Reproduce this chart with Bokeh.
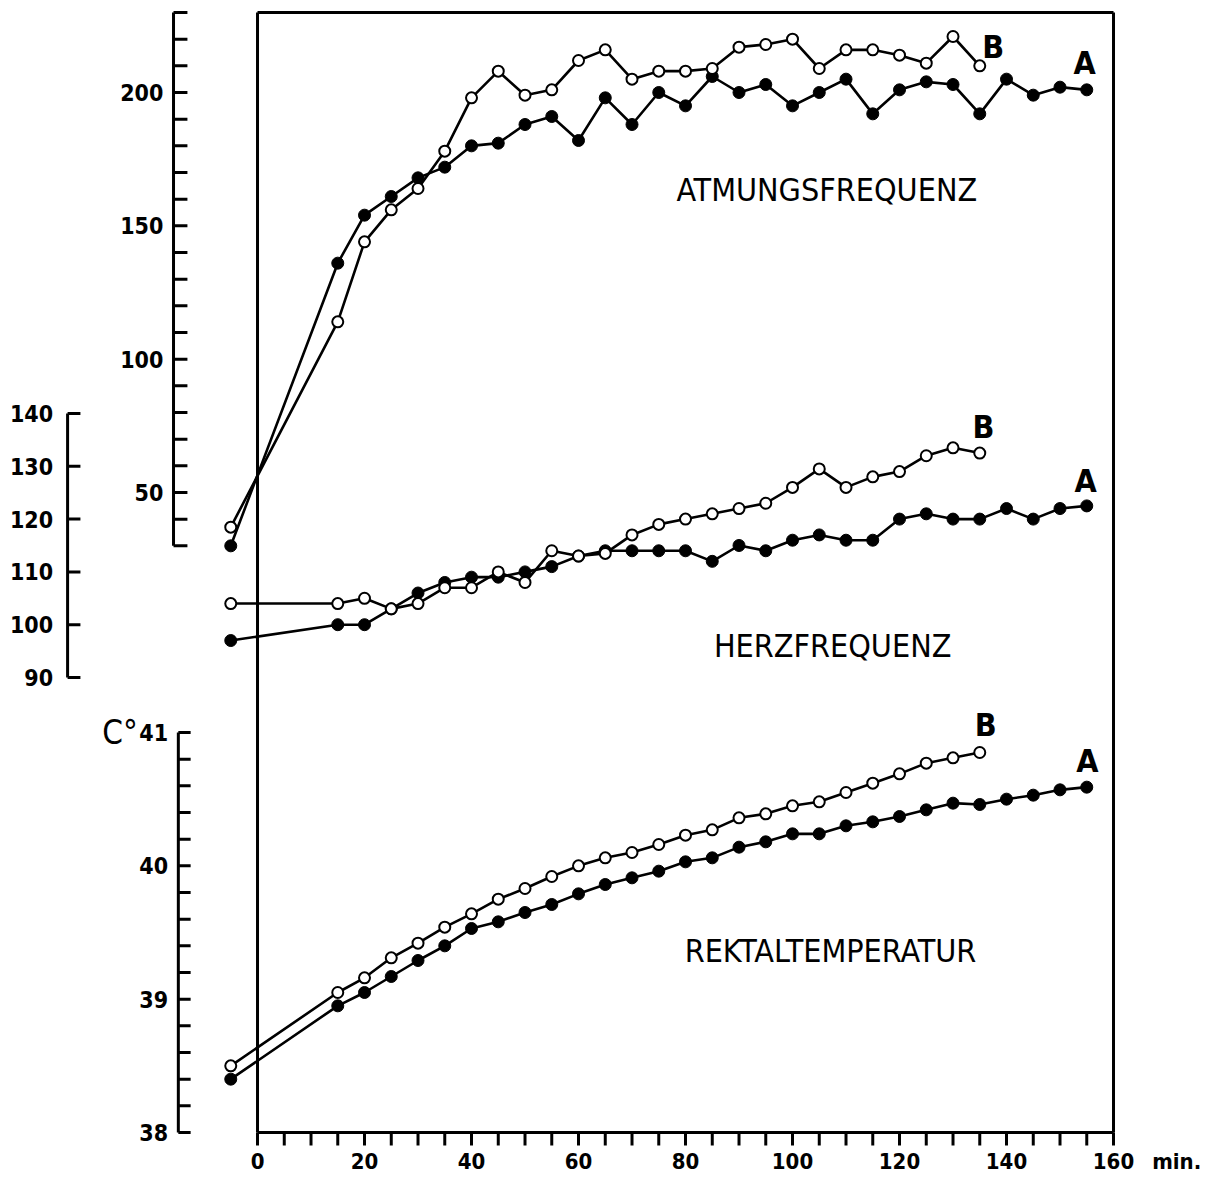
from bokeh.plotting import figure
from bokeh.models import Range1d
from bokeh.core.properties import value
from bokeh.embed import file_html
from bokeh.resources import INLINE

# ---------------- data ----------------
time_a = [-5, 15, 20, 25, 30, 35, 40, 45, 50, 55, 60, 65, 70, 75, 80, 85,
          90, 95, 100, 105, 110, 115, 120, 125, 130, 135, 140, 145, 150, 155]
time_b = [-5, 15, 20, 25, 30, 35, 40, 45, 50, 55, 60, 65, 70, 75, 80, 85,
          90, 95, 100, 105, 110, 115, 120, 125, 130, 135]

atm_a = [30, 136, 154, 161, 168, 172, 180, 181, 188, 191, 182, 198, 188, 200, 195, 206,
         200, 203, 195, 200, 205, 192, 201, 204, 203, 192, 205, 199, 202, 201]
atm_b = [37, 114, 144, 156, 164, 178, 198, 208, 199, 201, 212, 216, 205, 208, 208, 209,
         217, 218, 220, 209, 216, 216, 214, 211, 221, 210]

herz_a = [97, 100, 100, 103, 106, 108, 109, 109, 110, 111, 113, 114, 114, 114, 114, 112,
          115, 114, 116, 117, 116, 116, 120, 121, 120, 120, 122, 120, 122, 122.5]
herz_b = [104, 104, 105, 103, 104, 107, 107, 110, 108, 114, 113, 113.5, 117, 119, 120, 121,
          122, 123, 126, 129.5, 126, 128, 129, 132, 133.5, 132.5]

temp_a = [38.40, 38.95, 39.05, 39.17, 39.29, 39.40, 39.53, 39.58, 39.65, 39.71, 39.79, 39.86,
          39.91, 39.96, 40.03, 40.06, 40.14, 40.18, 40.24, 40.24, 40.30, 40.33, 40.37, 40.42,
          40.47, 40.46, 40.50, 40.53, 40.57, 40.59]
temp_b = [38.50, 39.05, 39.16, 39.31, 39.42, 39.54, 39.64, 39.75, 39.83, 39.92, 40.00, 40.06,
          40.10, 40.16, 40.23, 40.27, 40.36, 40.39, 40.45, 40.48, 40.55, 40.62, 40.69, 40.77,
          40.81, 40.85]

x_ticks = [0, 5, 10, 15, 20, 25, 30, 35, 40, 45, 50, 55, 60, 65, 70, 75, 80,
           85, 90, 95, 100, 105, 110, 115, 120, 125, 130, 135, 140, 145, 150, 155, 160]
x_tick_labels = [0, 20, 40, 60, 80, 100, 120, 140, 160]
x_unit = "min."

atm_ticks = [30, 40, 50, 60, 70, 80, 90, 100, 110, 120, 130, 140, 150, 160, 170, 180,
             190, 200, 210, 220, 230]
atm_tick_labels = [50, 100, 150, 200]
herz_ticks = [90, 100, 110, 120, 130, 140]
herz_tick_labels = [90, 100, 110, 120, 130, 140]
temp_ticks = [38.0, 38.2, 38.4, 38.6, 38.8, 39.0, 39.2, 39.4, 39.6, 39.8, 40.0,
              40.2, 40.4, 40.6, 40.8, 41.0]
temp_tick_labels = [38, 39, 40, 41]
temp_unit = "C°"

panel_titles = ["ATMUNGSFREQUENZ", "HERZFREQUENZ", "REKTALTEMPERATUR"]

# ---------------- styling / layout constants ----------------
FONT = "DejaVu Sans Condensed"
LW = 2.6
AXW = 3
BLACK = "black"

p = figure(width=1200, height=1176,
           x_range=Range1d(-48.04, 176.26), y_range=Range1d(37.67, 46.49),
           x_axis_type=None, y_axis_type=None,
           toolbar_location=None, output_backend="svg",
           min_border=0, outline_line_color=None,
           background_fill_color="white", border_fill_color="white")
p.extra_y_ranges = {"atm": Range1d(-206.5, 234.5), "herz": Range1d(-4.51, 218.22)}

num_kw = dict(text_font=value(FONT), text_font_style="bold", text_font_size="23px",
              text_color=BLACK)
xnum_kw = dict(text_font=value(FONT), text_font_style="bold", text_font_size="22px",
               text_color=BLACK)

# ---- time axis (bottom, temperature scale baseline) ----
X_BASE = 38.0
X_TICK_LEN = 0.0975
p.segment(x0=[x_ticks[0]], y0=[X_BASE], x1=[x_ticks[-1]], y1=[X_BASE],
          line_color=BLACK, line_width=AXW)
p.segment(x0=x_ticks, y0=[X_BASE] * len(x_ticks), x1=x_ticks,
          y1=[X_BASE - X_TICK_LEN] * len(x_ticks), line_color=BLACK, line_width=AXW)
p.text(x=x_tick_labels, y=[X_BASE - 0.215] * len(x_tick_labels),
       text=[str(v) for v in x_tick_labels], text_align="center", text_baseline="middle",
       **xnum_kw)
p.text(x=[171.8], y=[X_BASE - 0.215], text=[x_unit], text_align="center",
       text_baseline="middle", **xnum_kw)

# frame box (left at 0 min, right at 160 min, top at 230 of the respiration scale)
p.segment(x0=[0, 160, 0], y0=[-190, -190, 230], x1=[0, 160, 160], y1=[230, 230, 230],
          y_range_name="atm", line_color=BLACK, line_width=AXW)

# ---- respiration axis ----
AX_ATM = -15.7
TICK_ATM = 2.6
p.segment(x0=[AX_ATM], y0=[atm_ticks[0]], x1=[AX_ATM], y1=[atm_ticks[-1]],
          y_range_name="atm", line_color=BLACK, line_width=AXW)
p.segment(x0=[AX_ATM] * len(atm_ticks), y0=atm_ticks,
          x1=[AX_ATM + TICK_ATM] * len(atm_ticks), y1=atm_ticks,
          y_range_name="atm", line_color=BLACK, line_width=AXW)
p.text(x=[AX_ATM - 1.9] * len(atm_tick_labels), y=atm_tick_labels,
       text=[str(v) for v in atm_tick_labels], y_range_name="atm",
       text_align="right", text_baseline="middle", **num_kw)

# ---- heart-rate axis ----
AX_HERZ = -35.5
TICK_HERZ = 2.4
p.segment(x0=[AX_HERZ], y0=[herz_ticks[0]], x1=[AX_HERZ], y1=[herz_ticks[-1]],
          y_range_name="herz", line_color=BLACK, line_width=AXW)
p.segment(x0=[AX_HERZ] * len(herz_ticks), y0=herz_ticks,
          x1=[AX_HERZ + TICK_HERZ] * len(herz_ticks), y1=herz_ticks,
          y_range_name="herz", line_color=BLACK, line_width=AXW)
p.text(x=[AX_HERZ - 2.7] * len(herz_tick_labels), y=herz_tick_labels,
       text=[str(v) for v in herz_tick_labels], y_range_name="herz",
       text_align="right", text_baseline="middle", **num_kw)

# ---- temperature axis ----
AX_TEMP = -14.8
TICK_TEMP = 2.3
p.segment(x0=[AX_TEMP], y0=[temp_ticks[0]], x1=[AX_TEMP], y1=[temp_ticks[-1]],
          line_color=BLACK, line_width=AXW)
p.segment(x0=[AX_TEMP] * len(temp_ticks), y0=temp_ticks,
          x1=[AX_TEMP + TICK_TEMP] * len(temp_ticks), y1=temp_ticks,
          line_color=BLACK, line_width=AXW)
p.text(x=[AX_TEMP - 1.9] * len(temp_tick_labels), y=temp_tick_labels,
       text=[str(v) for v in temp_tick_labels],
       text_align="right", text_baseline="middle", **num_kw)
p.text(x=[-29.0], y=[41.0], text=[temp_unit], text_align="left", text_baseline="middle",
       text_font=value(FONT), text_font_size="33px", text_color=BLACK)

# ---- series ----
def series(xs, ys, filled, rng=None):
    kw = {} if rng is None else {"y_range_name": rng}
    p.line(xs, ys, line_color=BLACK, line_width=LW, **kw)
    if filled:
        p.scatter(xs, ys, marker="circle", size=12, fill_color=BLACK,
                  line_color=BLACK, line_width=1, **kw)
    else:
        p.scatter(xs, ys, marker="circle", size=11, fill_color="white",
                  line_color=BLACK, line_width=2, **kw)

series(time_a, atm_a, True, "atm")
series(time_b, atm_b, False, "atm")
series(time_a, herz_a, True, "herz")
series(time_b, herz_b, False, "herz")
series(time_a, temp_a, True)
series(time_b, temp_b, False)

# ---- A / B curve labels ----
lab_kw = dict(text_align="center", text_baseline="middle", text_font=value(FONT),
              text_font_size="32px", text_font_style="bold", text_color=BLACK)
p.text(x=[137.5, 154.6], y=[217, 211], text=["B", "A"], y_range_name="atm", **lab_kw)
p.text(x=[135.7, 154.8], y=[137.5, 127.3], text=["B", "A"], y_range_name="herz", **lab_kw)
p.text(x=[136.1, 155.1], y=[41.06, 40.79], text=["B", "A"], **lab_kw)

# ---- panel titles ----
ttl_kw = dict(text_align="center", text_baseline="middle", text_font=value(FONT),
              text_font_size="32px", text_color=BLACK)
p.text(x=[106.4], y=[163.3], text=[panel_titles[0]], y_range_name="atm", **ttl_kw)
p.text(x=[107.5], y=[96.0], text=[panel_titles[1]], y_range_name="herz", **ttl_kw)
p.text(x=[107.1], y=[39.365], text=[panel_titles[2]], **ttl_kw)

open("out.html", "w").write(file_html(p, INLINE))
